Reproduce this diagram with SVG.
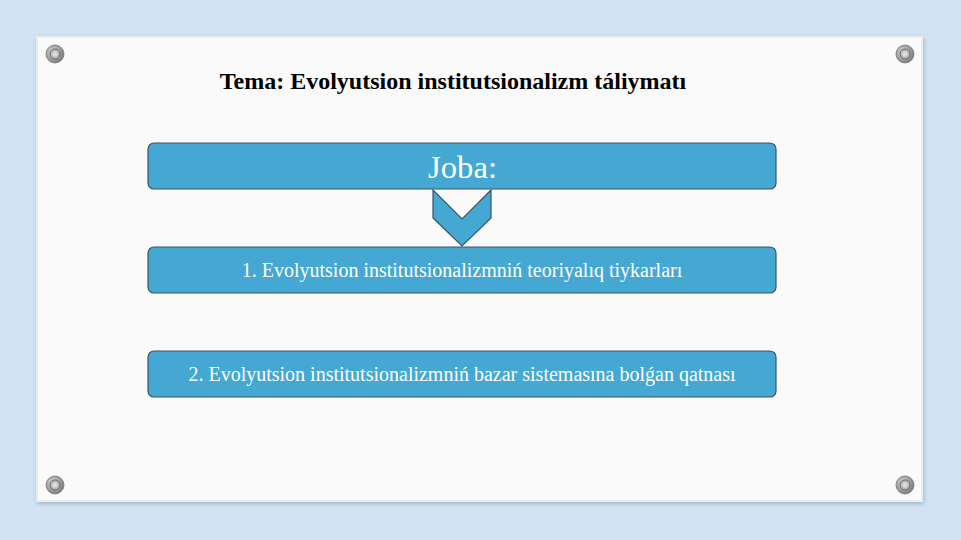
<svg xmlns="http://www.w3.org/2000/svg" width="961" height="540" viewBox="0 0 961 540">
<defs>
<style>
.box{fill:#45a8d2;stroke:#3a5566;stroke-width:1.2}
.t{font-family:"Liberation Serif",serif;fill:#ffffff;text-anchor:middle}
</style>
<radialGradient id="scr" cx="0.4" cy="0.4" r="0.7">
<stop offset="0" stop-color="#e8e8e8"/><stop offset="0.6" stop-color="#9a9a9a"/><stop offset="1" stop-color="#6e6e6e"/>
</radialGradient>
<g id="screw"><circle r="9" fill="url(#scr)" stroke="#777" stroke-width="0.8"/><circle r="5" fill="#b8bcc0" stroke="#666" stroke-width="1"/><circle r="2.5" fill="#d8dde2"/></g>
<filter id="sh" x="-5%" y="-5%" width="110%" height="110%"><feDropShadow dx="1" dy="2" stdDeviation="2" flood-color="#7a8a99" flood-opacity="0.5"/></filter>
</defs>
<rect width="961" height="540" fill="#d2e3f3"/>
<rect x="37" y="37" width="885" height="464" fill="#fafafa" stroke="#e6eef5" stroke-width="2" filter="url(#sh)"/>
<use href="#screw" x="55" y="54"/>
<use href="#screw" x="905" y="54"/>
<use href="#screw" x="55" y="485"/>
<use href="#screw" x="905" y="485"/>
<text x="453" y="89" font-family="Liberation Serif,serif" font-weight="bold" font-size="24" text-anchor="middle" fill="#000">Tema: Evolyutsion institutsionalizm táliymatı</text>
<g id="connectors">
<polygon class="box" points="433,190 462,219 491,190 491,218 462,246 433,218"/>
</g>
<g id="joba">
<rect class="box" x="148" y="143" width="628" height="46" rx="6"/>
<text class="t" x="462.5" y="178" font-size="31" textLength="69" lengthAdjust="spacingAndGlyphs">Joba:</text>
</g>
<g id="item1">
<rect class="box" x="148" y="247" width="628" height="46" rx="6"/>
<text class="t" x="462" y="277" font-size="20">1. Evolyutsion institutsionalizmniń teoriyalıq tiykarları</text>
</g>
<g id="item2">
<rect class="box" x="148" y="351" width="628" height="46" rx="6"/>
<text class="t" x="462" y="381" font-size="20">2. Evolyutsion institutsionalizmniń bazar sistemasına bolǵan qatnası</text>
</g>
</svg>
